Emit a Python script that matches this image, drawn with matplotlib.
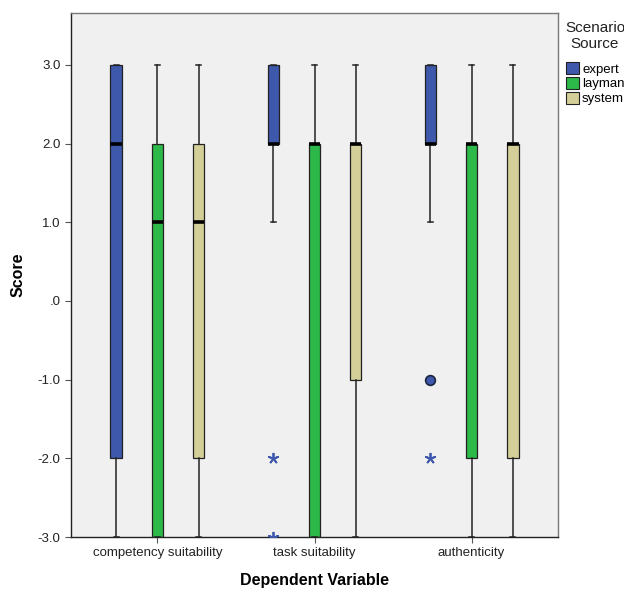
import matplotlib
matplotlib.use("Agg")
import matplotlib.pyplot as plt
from matplotlib.patches import Patch

plt.rcParams["font.family"] = ["Liberation Sans", "DejaVu Sans"]

# data (SPSS clustered boxplot)
variables = ["competency suitability", "task suitability", "authenticity"]
sources = ["expert", "layman", "system"]
colors = ["#3e58ac", "#2db84a", "#d4cf98"]

q1 = {"expert": [-2, 2, 2], "layman": [-3, -3, -2], "system": [-2, -1, -2]}
med = {"expert": [2, 2, 2], "layman": [1, 2, 2], "system": [1, 2, 2]}
q3 = {"expert": [3, 3, 3], "layman": [2, 2, 2], "system": [2, 2, 2]}
whislo = {"expert": [-3, 1, 1], "layman": [-3, -3, -3], "system": [-3, -3, -3]}
whishi = {"expert": [3, 3, 3], "layman": [3, 3, 3], "system": [3, 3, 3]}
# outliers (circle) and extremes (star)
outliers = {"expert": [[], [], [-1]], "layman": [[], [], []], "system": [[], [], []]}
extremes = {"expert": [[], [-2, -3], [-2]], "layman": [[], [], []], "system": [[], [], []]}

yticks = [3, 2, 1, 0, -1, -2, -3]
ytick_labels = ["3.0", "2.0", "1.0", ".0", "-1.0", "-2.0", "-3.0"]

fig = plt.figure(figsize=(6.24, 5.9), dpi=100)
ax = fig.add_axes([71 / 624, 53 / 590, 487 / 624, 524 / 590])
ax.set_facecolor("#f0f0f0")

offset = 0.262
box_w = 0.074

for k, src in enumerate(sources):
    stats = []
    for i in range(len(variables)):
        stats.append({
            "q1": q1[src][i], "med": med[src][i], "q3": q3[src][i],
            "whislo": whislo[src][i], "whishi": whishi[src][i], "fliers": [],
        })
    pos = [i + (k - 1) * offset for i in range(len(variables))]
    ax.bxp(stats, positions=pos, widths=box_w, capwidths=box_w * 0.45,
           patch_artist=True, showfliers=False, manage_ticks=False,
           boxprops=dict(facecolor=colors[k], edgecolor="#222222", linewidth=0.9),
           medianprops=dict(color="black", linewidth=2.6, solid_capstyle="butt"),
           whiskerprops=dict(color="#222222", linewidth=1.1),
           capprops=dict(color="#222222", linewidth=1.1))
    for i in range(len(variables)):
        x = i + (k - 1) * offset
        for v in outliers[src][i]:
            ax.plot(x, v, "o", ms=7, mfc=colors[k], mec="#1b2540", mew=1.2, zorder=5)
        for v in extremes[src][i]:
            ax.plot(x, v, marker=(5, 2, 0), ms=8, color=colors[k], mew=1.3,
                    linestyle="none", zorder=5)

ax.set_xlim(-0.55, 2.55)
ax.set_ylim(-3, 3.66)
ax.set_xticks(range(len(variables)))
ax.set_xticklabels(variables, fontsize=9.5)
ax.set_yticks(yticks)
ax.set_yticklabels(ytick_labels, fontsize=9.5)
ax.tick_params(axis="both", direction="out", length=4, width=0.8, color="#555555",
               labelcolor="#222222")
ax.tick_params(axis="x", pad=3)
for sp in ax.spines.values():
    sp.set_color("#777777")
    sp.set_linewidth(1.0)
ax.spines["left"].set_color("#222222")
ax.spines["bottom"].set_color("#222222")

ax.set_xlabel("Dependent Variable", fontsize=11.5, fontweight="bold", labelpad=10)
ax.set_ylabel("Score", fontsize=11.5, fontweight="bold", labelpad=9)

handles = [Patch(facecolor=c, edgecolor="#222222", linewidth=0.8) for c in colors]
leg = fig.legend(handles, sources, loc="upper left",
                 bbox_to_anchor=(561 / 624, 1 - 17 / 590),
                 title="Scenario\nSource", fontsize=9.5, title_fontsize=11,
                 frameon=False, handlelength=1.0, handleheight=1.0,
                 handletextpad=0.25, labelspacing=0.1, borderaxespad=0.0,
                 borderpad=0.3)
leg.get_title().set_color("#222222")
leg.get_title().set_multialignment("center")
leg._legend_box.sep = 8

fig.savefig("out.png", dpi=100)
